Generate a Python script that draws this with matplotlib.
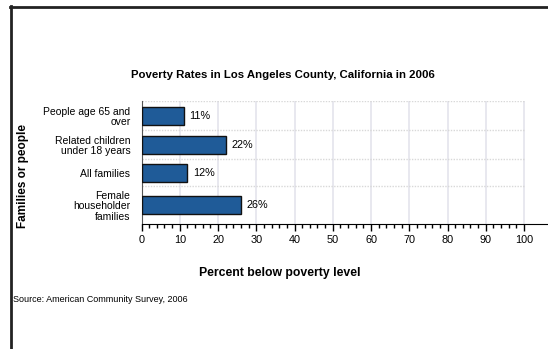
import matplotlib
matplotlib.use('Agg')
import matplotlib.pyplot as plt
from matplotlib.lines import Line2D
import numpy as np

# ---- data ----
categories = ["People age 65 and\nover", "Related children\nunder 18 years",
              "All families", "Female\nhouseholder\nfamilies"]
values = [11, 22, 12, 26]
value_labels = ["11%", "22%", "12%", "26%"]
x_ticks = [0, 10, 20, 30, 40, 50, 60, 70, 80, 90, 100]
title = "Poverty Rates in Los Angeles County, California in 2006"
xlabel = "Percent below poverty level"
ylabel = "Families or people"
source = "Source: American Community Survey, 2006"

plt.rcParams['font.family'] = ['Liberation Sans', 'DejaVu Sans']

W, H = 548, 349
fig = plt.figure(figsize=(W / 100, H / 100), dpi=100)
ax = fig.add_axes([141.5 / W, 1 - 224 / H, (547 - 141.5) / W, 123 / H])

# layout: category band heights (unequal because of label line counts)
band = [29, 29, 27, 38]
edges = np.concatenate([[0], np.cumsum(band)])
centers = (edges[:-1] + edges[1:]) / 2

ax.barh(centers, values, height=18, color='#1f5b98', edgecolor='#111111',
        linewidth=1, zorder=3)
ax.set_ylim(edges[-1], 0)
ax.set_xlim(0, 106)

# grid
ax.vlines(x_ticks[1:], 0, edges[-1], color='#e6e6ee', lw=1.3, zorder=1)
ax.hlines(edges[:-1], 0, x_ticks[-1], color='#d8d8d8', lw=1,
          linestyles=(0, (1, 1)), zorder=1)

ax.set_xticks(x_ticks)
ax.set_xticks(np.arange(0, 101, 2), minor=True)
ax.tick_params(axis='x', which='major', direction='out', length=5, width=1,
               color='black', labelsize=7.8, pad=3)
ax.tick_params(axis='x', which='minor', direction='out', length=3, width=1,
               color='black')
ax.set_yticks(centers)
ax.set_yticklabels(categories, fontsize=7.5, linespacing=1.05)
ax.tick_params(axis='y', length=0, pad=8)

for s in ['top', 'right']:
    ax.spines[s].set_visible(False)
ax.spines['left'].set_color('#555555')
ax.spines['bottom'].set_color('black')

for v, c, lbl in zip(values, centers, value_labels):
    ax.annotate(lbl, (v, c), xytext=(6, 0), textcoords='offset pixels',
                ha='left', va='center', fontsize=7.8)

fig.text(283 / W, 1 - 75 / H, title, ha='center', va='center',
         weight='bold', fontsize=8.2)
fig.text(280 / W, 1 - 273 / H, xlabel, ha='center', va='center',
         weight='bold', fontsize=8.8)
fig.text(23 / W, 1 - 176 / H, ylabel, ha='center', va='center',
         weight='bold', fontsize=8.5, rotation=90)
fig.text(13 / W, 1 - 300 / H, source, ha='left', va='center', fontsize=6.5)

# frame lines
fig.add_artist(Line2D([10 / W, 1], [1 - 7 / H, 1 - 7 / H], color='#222222', lw=2))
fig.add_artist(Line2D([10.5 / W, 10.5 / W], [0, 1 - 6 / H], color='#222222', lw=2))

fig.savefig('out.png', dpi=100)
